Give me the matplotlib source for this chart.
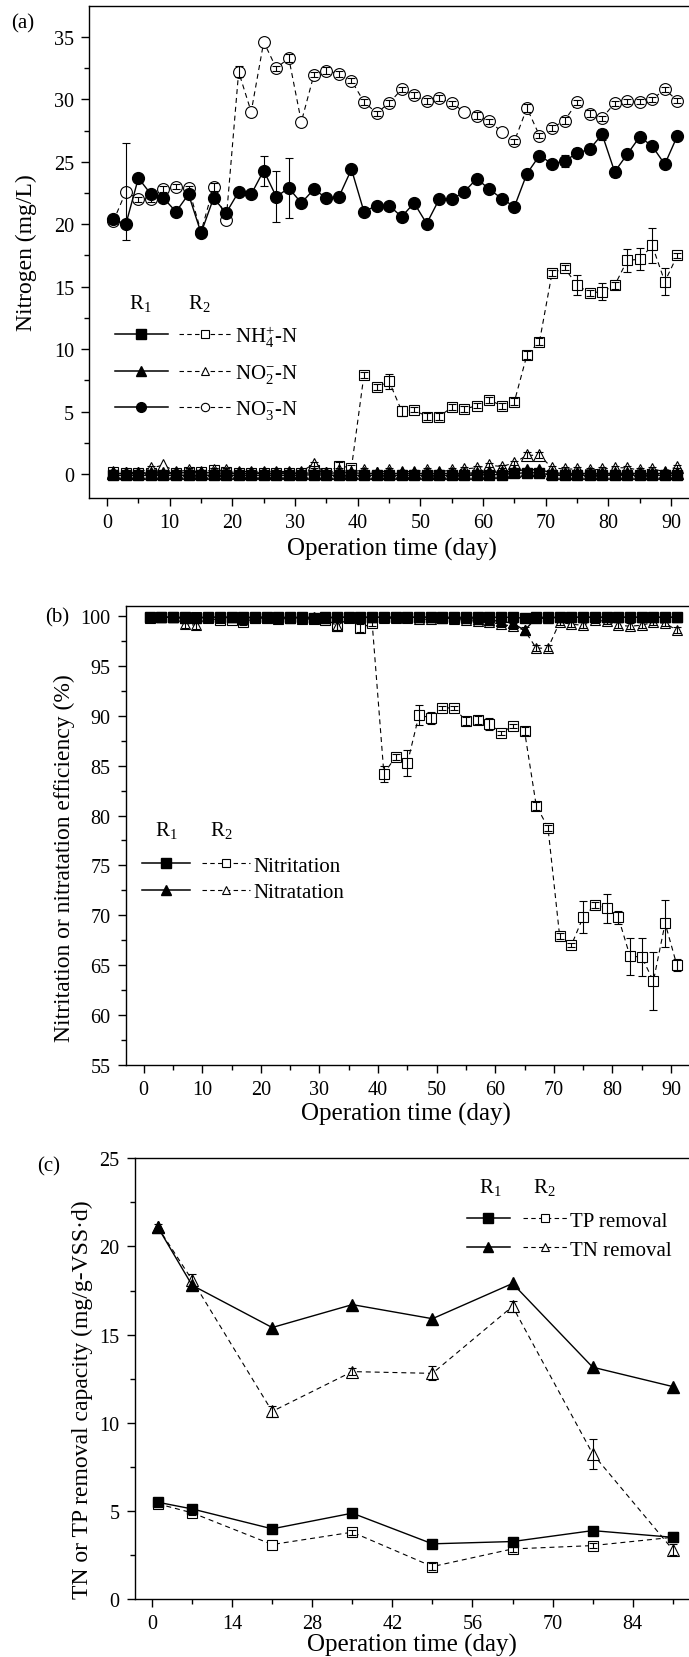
import numpy as np
import matplotlib.pyplot as plt
from matplotlib.lines import Line2D
from matplotlib.legend_handler import HandlerTuple
from matplotlib.ticker import MultipleLocator

plt.rcParams['font.family'] = ['Liberation Serif', 'DejaVu Serif']
plt.rcParams['mathtext.fontset'] = 'custom'
plt.rcParams['mathtext.rm'] = 'Liberation Serif'
plt.rcParams['mathtext.it'] = 'Liberation Serif:italic'
plt.rcParams['mathtext.bf'] = 'Liberation Serif:bold'

W, H = 689, 1658

# ---- (a) nitrogen, every second day ----
days = [1, 3, 5, 7, 9, 11, 13, 15, 17, 19, 21, 23, 25, 27, 29, 31, 33, 35, 37, 39,
        41, 43, 45, 47, 49, 51, 53, 55, 57, 59, 61, 63, 65, 67, 69, 71, 73, 75, 77, 79,
        81, 83, 85, 87, 89, 91]

nh4_r1 = [-0.1, -0.1, -0.1, -0.1, -0.1, -0.1, -0.1, -0.1, -0.1, -0.1,
          -0.1, -0.1, -0.1, -0.1, -0.1, -0.1, -0.05, -0.1, -0.1, -0.1,
          -0.1, -0.1, -0.1, -0.1, -0.1, -0.1, -0.1, -0.1, -0.1, -0.1,
          -0.05, -0.05, 0.05, 0.1, 0.1, -0.1, -0.1, -0.1, -0.1, -0.1,
          -0.1, -0.1, -0.1, -0.1, -0.1, -0.1]
nh4_r2 = [0.2, 0.1, 0.1, 0.1, 0.0, 0.1, 0.2, 0.2, 0.3, 0.2,
          0.1, 0.1, 0.1, 0.1, 0.1, 0.1, 0.3, 0.1, 0.65, 0.5,
          7.95, 6.94, 7.42, 5.07, 5.15, 4.6, 4.6, 5.34, 5.2, 5.47,
          5.92, 5.47, 5.8, 9.53, 10.6, 16.07, 16.5, 15.13, 14.5, 14.6,
          15.1, 17.1, 17.2, 18.3, 15.4, 17.5]
nh4_r2_err = [0.15, 0.15, 0.15, 0.15, 0.15, 0.15, 0.15, 0.15, 0.15, 0.15,
              0.15, 0.15, 0.15, 0.15, 0.15, 0.15, 0.15, 0.15, 0.3, 0.2,
              0.25, 0.25, 0.6, 0.4, 0.2, 0.25, 0.25, 0.25, 0.25, 0.2,
              0.25, 0.25, 0.3, 0.3, 0.3, 0.25, 0.2, 0.8, 0.25, 0.7,
              0.25, 0.9, 0.9, 1.4, 1.1, 0.2]
no2_r1 = [0.05, 0.05, 0.05, 0.1, 0.1, 0.1, 0.1, 0.1, 0.1, 0.05,
          0.05, 0.05, 0.05, 0.05, 0.05, 0.05, 0.1, 0.05, 0.1, 0.1,
          0.05, 0.05, 0.05, 0.05, 0.05, 0.05, 0.05, 0.05, 0.05, 0.1,
          0.15, 0.15, 0.25, 0.35, 0.35, 0.1, 0.05, 0.05, 0.05, 0.05,
          0.05, 0.05, 0.05, 0.05, 0.05, 0.05]
no2_r2 = [0.15, 0.1, 0.1, 0.5, 0.7, 0.2, 0.3, 0.2, 0.3, 0.3,
          0.2, 0.2, 0.2, 0.2, 0.2, 0.2, 0.8, 0.1, 0.3, 0.2,
          0.3, 0.1, 0.3, 0.2, 0.2, 0.3, 0.2, 0.3, 0.4, 0.5,
          0.7, 0.6, 0.9, 1.5, 1.5, 0.5, 0.4, 0.4, 0.3, 0.4,
          0.5, 0.5, 0.3, 0.4, 0.2, 0.6]
no2_r2_err = [0.15, 0.15, 0.15, 0.15, 0.0, 0.15, 0.15, 0.15, 0.15, 0.15,
              0.15, 0.15, 0.15, 0.15, 0.15, 0.15, 0.15, 0.0, 0.15, 0.15,
              0.15, 0.0, 0.15, 0.15, 0.15, 0.15, 0.15, 0.15, 0.15, 0.15,
              0.15, 0.15, 0.15, 0.25, 0.25, 0.15, 0.15, 0.15, 0.15, 0.15,
              0.15, 0.15, 0.15, 0.15, 0.15, 0.15]
no3_r1 = [20.4, 20.0, 23.7, 22.4, 22.1, 21.0, 22.4, 19.3, 22.1, 20.9,
          22.6, 22.4, 24.3, 22.2, 22.9, 21.7, 22.8, 22.1, 22.2, 24.4,
          21.0, 21.5, 21.5, 20.6, 21.7, 20.05, 22.0, 22.0, 22.6, 23.65,
          22.8, 22.05, 21.4, 24.05, 25.5, 24.85, 25.05, 25.7, 26.0, 27.2,
          24.2, 25.6, 27.0, 26.25, 24.8, 27.07]
no3_r1_err = [0.2, 0.1, 0.1, 0.1, 0.1, 0.1, 0.1, 0.2, 0.1, 0.1,
              0.1, 0.1, 1.2, 2.05, 2.4, 0.35, 0.1, 0.1, 0.1, 0.1,
              0.1, 0.1, 0.1, 0.3, 0.1, 0.1, 0.1, 0.1, 0.1, 0.1,
              0.1, 0.1, 0.1, 0.1, 0.1, 0.1, 0.5, 0.4, 0.1, 0.45,
              0.4, 0.1, 0.1, 0.1, 0.1, 0.1]
no3_r2 = [20.24, 22.6, 22.0, 22.0, 22.8, 23.0, 22.9, 19.4, 23.0, 20.3,
          32.2, 29.0, 34.6, 32.5, 33.3, 28.2, 31.95, 32.3, 32.05, 31.5,
          29.8, 28.9, 29.7, 30.8, 30.35, 29.85, 30.1, 29.7, 29.0, 28.7,
          28.25, 27.4, 26.65, 29.3, 27.1, 27.7, 28.3, 29.75, 28.85, 28.5,
          29.7, 29.85, 29.8, 30.0, 30.8, 29.9]
no3_r2_err = [0.25, 3.9, 0.2, 0.2, 0.25, 0.2, 0.2, 0.3, 0.3, 0.0,
              0.45, 0.0, 0.0, 0.2, 0.3, 0.0, 0.2, 0.25, 0.25, 0.2,
              0.25, 0.2, 0.25, 0.2, 0.25, 0.25, 0.25, 0.2, 0.0, 0.25,
              0.2, 0.0, 0.2, 0.3, 0.2, 0.25, 0.25, 0.2, 0.3, 0.2,
              0.2, 0.2, 0.2, 0.2, 0.2, 0.2]

# ---- (b) nitritation / nitratation efficiency ----
nitrit_r1 = [99.9, 99.9, 99.9, 99.9, 99.8, 99.9, 99.9, 99.9, 99.9, 99.9,
             99.9, 99.9, 99.9, 99.9, 99.8, 99.9, 99.9, 99.9, 99.9, 99.9,
             99.9, 99.9, 99.9, 99.9, 99.9, 99.9, 99.9, 99.9, 99.9, 99.9,
             99.9, 99.9, 99.8, 99.9, 99.9, 99.9, 99.9, 99.9, 99.9, 99.9,
             99.9, 99.9, 99.9, 99.9, 99.9, 99.9]
nitrat_r1 = [99.9, 99.9, 99.9, 99.8, 99.9, 99.9, 99.9, 99.9, 99.8, 99.9,
             99.9, 99.9, 99.8, 99.9, 99.9, 99.8, 99.9, 99.9, 99.9, 99.9,
             99.9, 99.9, 99.9, 99.9, 99.9, 99.8, 99.8, 99.8, 99.7, 99.6,
             99.5, 99.3, 98.6, 99.8, 99.8, 99.9, 99.9, 99.9, 99.9, 99.9,
             99.9, 99.9, 99.9, 99.9, 99.9, 99.9]
nitrit_r2 = [99.8, 99.9, 99.9, 99.8, 99.9, 99.8, 99.6, 99.6, 99.4, 99.8,
             99.8, 99.7, 99.8, 99.7, 99.7, 99.6, 99.0, 99.8, 98.8, 99.3,
             84.2, 85.9, 85.25, 90.1, 89.8, 90.8, 90.8, 89.5, 89.6, 89.2,
             88.3, 89.0, 88.5, 81.0, 78.8, 67.9, 67.0, 69.8, 71.0, 70.7,
             69.8, 65.9, 65.8, 63.4, 69.2, 65.0]
nitrit_r2_err = [0.2, 0.2, 0.2, 0.2, 0.2, 0.2, 0.2, 0.2, 0.3, 0.2,
                 0.2, 0.2, 0.2, 0.2, 0.2, 0.2, 0.4, 0.2, 0.4, 0.3,
                 0.8, 0.3, 1.3, 1.0, 0.6, 0.2, 0.2, 0.4, 0.4, 0.6,
                 0.2, 0.2, 0.4, 0.4, 0.3, 0.3, 0.2, 1.6, 0.3, 1.45,
                 0.65, 1.85, 1.9, 2.9, 2.35, 0.6]
nitrat_r2 = [99.9, 99.9, 99.9, 99.2, 99.1, 99.9, 99.8, 99.9, 99.7, 99.8,
             99.8, 99.8, 99.9, 99.8, 99.8, 99.8, 99.0, 99.9, 99.8, 99.9,
             99.8, 99.8, 99.8, 99.7, 99.7, 99.8, 99.7, 99.6, 99.5, 99.4,
             99.2, 99.0, 98.6, 96.8, 96.8, 99.4, 99.2, 99.1, 99.6, 99.5,
             99.1, 99.0, 99.1, 99.4, 99.3, 98.6]
nitrat_r2_err = [0.3, 0.3, 0.3, 0.4, 0.4, 0.3, 0.3, 0.3, 0.3, 0.3,
                 0.3, 0.3, 0.3, 0.3, 0.3, 0.3, 0.4, 0.0, 0.3, 0.3,
                 0.3, 0.3, 0.3, 0.3, 0.3, 0.3, 0.3, 0.3, 0.3, 0.3,
                 0.3, 0.3, 0.3, 0.3, 0.3, 0.3, 0.3, 0.3, 0.3, 0.3,
                 0.3, 0.3, 0.3, 0.3, 0.3, 0.3]

# ---- (c) removal capacity ----
days_c = [1, 7, 21, 35, 49, 63, 77, 91]
tp_r1 = [5.49, 5.11, 3.98, 4.87, 3.13, 3.26, 3.88, 3.5]
tp_r2 = [5.4, 4.89, 3.09, 3.79, 1.84, 2.84, 3.03, 3.5]
tp_r2_err = [0.15, 0.15, 0.0, 0.15, 0.2, 0.15, 0.15, 0.2]
tn_r1 = [21.1, 17.8, 15.4, 16.7, 15.9, 17.9, 13.15, 12.05]
tn_r2 = [21.1, 18.1, 10.64, 12.9, 12.8, 16.6, 8.24, 2.8]
tn_r2_err = [0.15, 0.35, 0.3, 0.2, 0.4, 0.3, 0.85, 0.3]

DASH = (0, (4.5, 3.5))


def px_box(l, t, r, b):
    return [l / W, 1 - b / H, (r - l) / W, (b - t) / H]


def px(x, y):
    return (x / W, 1 - y / H)


def style_axes(ax, xmaj, xmin, ymaj, ymin):
    ax.spines['right'].set_visible(False)
    for s in ['left', 'bottom', 'top']:
        ax.spines[s].set_linewidth(1.0)
    ax.xaxis.set_major_locator(MultipleLocator(xmaj))
    ax.xaxis.set_minor_locator(MultipleLocator(xmin))
    ax.yaxis.set_major_locator(MultipleLocator(ymaj))
    ax.yaxis.set_minor_locator(MultipleLocator(ymin))
    ax.tick_params(which='major', direction='out', length=6, width=1.0,
                   labelsize=14.5, pad=5, top=False, right=False)
    ax.tick_params(which='minor', direction='out', length=3.5, width=1.0,
                   top=False, right=False)


def pair(ax, x, y1, y2, marker, ms, err1=None, err2=None):
    # R2: dashed line with open markers, R1: solid with filled markers
    ax.plot(x, y2, ls=DASH, lw=0.8, color='k', marker=marker, ms=ms,
            mfc='white', mec='k', mew=0.8, zorder=3)
    if err2 is not None:
        e = np.array(err2, dtype=float)
        e[e == 0] = np.nan
        ax.errorbar(x, y2, yerr=e, fmt='none', ecolor='k', elinewidth=0.8,
                    capsize=3.2, capthick=0.8, zorder=4)
    ax.plot(x, y1, ls='-', lw=1.0, color='k', marker=marker, ms=ms,
            mfc='k', mec='k', zorder=5)
    if err1 is not None:
        ax.errorbar(x, y1, yerr=err1, fmt='none', ecolor='k', elinewidth=0.8,
                    capsize=3.2, capthick=0.8, zorder=6)


def legend_pairs(ax, entries, anchor, hlen, pad, spacing):
    handles = []
    labels = []
    for marker, label in entries:
        h1 = Line2D([], [], color='k', lw=1.1, marker=marker, ms=7, mfc='k')
        h2 = Line2D([], [], color='k', lw=0.8, ls=(0, (4, 3)), marker=marker,
                    ms=6, mfc='white', mew=0.8)
        handles.append((h1, h2))
        labels.append(label)
    ax.legend(handles, labels, handler_map={tuple: HandlerTuple(ndivide=None, pad=pad)},
              loc='upper left', bbox_to_anchor=anchor, bbox_transform=fig.transFigure,
              frameon=False, fontsize=15, handlelength=hlen, handletextpad=0.15,
              labelspacing=spacing, borderpad=0, borderaxespad=0, numpoints=1)


fig = plt.figure(figsize=(W / 100, H / 100), dpi=100)

# ---------------- panel (a) ----------------
ax1 = fig.add_axes(px_box(89.2, 7.3, 696, 499))
pair(ax1, days, nh4_r1, nh4_r2, 's', 7, None, nh4_r2_err)
pair(ax1, days, no2_r1, no2_r2, '^', 9, None, no2_r2_err)
pair(ax1, days, no3_r1, no3_r2, 'o', 8.5, no3_r1_err, no3_r2_err)
ax1.set_xlim(-2.85, 93.98)
ax1.set_ylim(-1.92, 37.45)
style_axes(ax1, 10, 5, 5, 2.5)
ax1.set_xlabel('Operation time (day)', fontsize=18, va='center')
ax1.xaxis.set_label_coords(*px(392, 549), transform=fig.transFigure)
ax1.set_ylabel('Nitrogen (mg/L)', fontsize=17, va='center')
ax1.yaxis.set_label_coords(*px(26, 253), transform=fig.transFigure)
legend_pairs(ax1, [('s', 'NH$_4^{+}$-N'), ('^', 'NO$_2^{-}$-N'), ('o', 'NO$_3^{-}$-N')],
             px(115, 324), 5.6, 0.55, 0.64)
fig.text(*px(140, 303), 'R$_1$', fontsize=15, ha='center', va='center')
fig.text(*px(199, 303), 'R$_2$', fontsize=15, ha='center', va='center')
fig.text(*px(23, 24), '(a)', fontsize=15, ha='center', va='center')

# ---------------- panel (b) ----------------
ax2 = fig.add_axes(px_box(126, 606.7, 696, 1065.7))
pair(ax2, days, nitrit_r1, nitrit_r2, 's', 6.5, None, nitrit_r2_err)
pair(ax2, days, nitrat_r1, nitrat_r2, '^', 7.5, None, nitrat_r2_err)
ax2.set_xlim(-3.02, 94.27)
ax2.set_ylim(55, 101.06)
style_axes(ax2, 10, 5, 5, 2.5)
ax2.set_xlabel('Operation time (day)', fontsize=18, va='center')
ax2.xaxis.set_label_coords(*px(406, 1114), transform=fig.transFigure)
ax2.set_ylabel('Nitritation or nitratation efficiency (%)', fontsize=17, va='center')
ax2.yaxis.set_label_coords(*px(64, 858), transform=fig.transFigure)
legend_pairs(ax2, [('s', 'Nitritation'), ('^', 'Nitratation')],
             px(141.7, 857), 5.2, 0.58, 0.35)
fig.text(*px(166, 831), 'R$_1$', fontsize=15, ha='center', va='center')
fig.text(*px(221, 831), 'R$_2$', fontsize=15, ha='center', va='center')
fig.text(*px(57, 618), '(b)', fontsize=15, ha='center', va='center')

# ---------------- panel (c) ----------------
ax3 = fig.add_axes(px_box(134.9, 1159.3, 696, 1600))
pair(ax3, days_c, tp_r1, tp_r2, 's', 7, None, tp_r2_err)
pair(ax3, days_c, tn_r1, tn_r2, '^', 8.5, None, tn_r2_err)
ax3.set_xlim(-2.99, 95.06)
ax3.set_ylim(0, 25)
style_axes(ax3, 14, 7, 5, 2.5)
ax3.set_xlabel('Operation time (day)', fontsize=18, va='center')
ax3.xaxis.set_label_coords(*px(412, 1645), transform=fig.transFigure)
ax3.set_ylabel('TN or TP removal capacity (mg/g-VSS\u00b7d)', fontsize=17, va='center')
ax3.yaxis.set_label_coords(*px(82, 1400), transform=fig.transFigure)
legend_pairs(ax3, [('s', 'TP removal'), ('^', 'TN removal')],
             px(466.6, 1212), 4.8, 0.6, 0.45)
fig.text(*px(490, 1188), 'R$_1$', fontsize=15, ha='center', va='center')
fig.text(*px(544, 1188), 'R$_2$', fontsize=15, ha='center', va='center')
fig.text(*px(49, 1167), '(c)', fontsize=15, ha='center', va='center')

fig.savefig('out.png', dpi=100)
